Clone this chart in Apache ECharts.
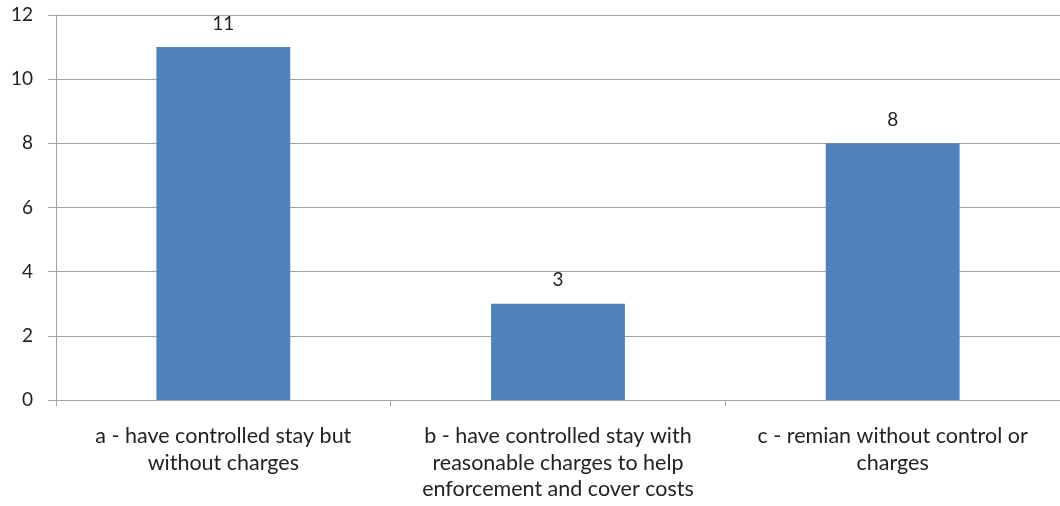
<!DOCTYPE html>
<html>
<head>
<meta charset="utf-8">
<script src="https://cdn.jsdelivr.net/npm/echarts@6/dist/echarts.min.js"></script>
<style>
  html, body { margin: 0; padding: 0; background: #ffffff; }
  #chart { width: 1060px; height: 506px; }
</style>
</head>
<body>
<div id="chart"></div>
<script>
// Responses per option
const categories = [
  'a - have controlled stay but\nwithout charges',
  'b - have controlled stay with\nreasonable charges to help\nenforcement and cover costs',
  'c - remian without control or\ncharges'
];
const values = [11, 3, 8];
const yTicks = { min: 0, max: 12, interval: 2 };

const fontFamily = 'Lato, "Open Sans", "Liberation Sans", sans-serif';
const gridColor = '#a3a3a3';

const chart = echarts.init(document.getElementById('chart'), null, { renderer: 'canvas' });
chart.setOption({
  animation: false,
  backgroundColor: '#ffffff',
  grid: { left: 56, right: 0, top: 15, bottom: 106, containLabel: false },
  xAxis: {
    type: 'category',
    data: categories,
    axisLine: { show: true, lineStyle: { color: gridColor, width: 1 } },
    axisTick: { show: true, length: 6, alignWithLabel: false, lineStyle: { color: gridColor } },
    axisLabel: {
      interval: 0,
      margin: 23,
      color: '#222222',
      fontFamily: fontFamily,
      fontSize: 21.5,
      lineHeight: 26.5,
      align: 'center'
    }
  },
  yAxis: {
    type: 'value',
    min: yTicks.min,
    max: yTicks.max,
    interval: yTicks.interval,
    axisLine: { show: true, lineStyle: { color: gridColor, width: 1 } },
    axisTick: { show: true, length: 8, inside: false, lineStyle: { color: gridColor } },
    axisLabel: {
      margin: 23,
      color: '#222222',
      fontFamily: fontFamily,
      fontSize: 19
    },
    splitLine: { show: true, lineStyle: { color: gridColor, width: 1 } }
  },
  series: [{
    type: 'bar',
    data: values,
    barWidth: '40%',
    itemStyle: { color: '#4f81bd' },
    label: {
      show: true,
      position: 'top',
      distance: 14,
      color: '#222222',
      fontFamily: fontFamily,
      fontSize: 19
    }
  }]
});
</script>
</body>
</html>
